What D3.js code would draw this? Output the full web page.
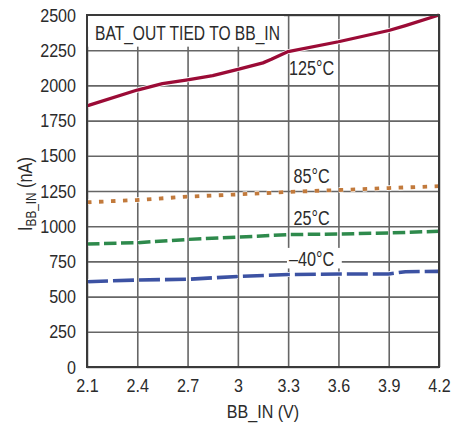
<!DOCTYPE html>
<html>
<head>
<meta charset="utf-8">
<script src="https://cdn.jsdelivr.net/npm/d3@7"></script>
<style>
  body { margin: 0; background: #fff; }
  svg { display: block; font-family: "Liberation Sans Narrow", "Arial Narrow", "Liberation Sans", sans-serif; }
</style>
</head>
<body>
<svg id="chart" width="466" height="433"></svg>
<script>
// Supply current into BB_IN vs. BB_IN voltage, four temperatures
const bbIn125 = [2.1, 2.4, 2.55, 2.7, 2.85, 3.0, 3.15, 3.2, 3.3, 3.6, 3.9, 4.0, 4.2];
const iBB125  = [1855, 1967, 2012, 2040, 2070, 2114, 2160, 2185, 2240, 2310, 2390, 2425, 2500];

const bbIn85 = [2.1, 2.4, 2.7, 3.0, 3.3, 3.6, 3.9, 4.2];
const iBB85  = [1170, 1186, 1210, 1226, 1243, 1257, 1271, 1284];

const bbIn25 = [2.1, 2.4, 2.7, 3.0, 3.3, 3.6, 3.9, 4.2];
const iBB25  = [874, 883, 906, 922, 940, 945, 952, 964];

const bbInM40 = [2.1, 2.4, 2.7, 3.0, 3.3, 3.6, 3.9, 4.0, 4.2];
const iBBM40  = [606, 618, 623, 643, 657, 660, 661, 677, 679];

const xTicks = [2.1, 2.4, 2.7, 3.0, 3.3, 3.6, 3.9, 4.2];
const xTickLabels = ["2.1", "2.4", "2.7", "3", "3.3", "3.6", "3.9", "4.2"];
const yTicks = [0, 250, 500, 750, 1000, 1250, 1500, 1750, 2000, 2250, 2500];

const tempLabels = ["125°C", "85°C", "25°C", "–40°C"];

const margin = { left: 87, top: 15, right: 27, bottom: 66 };
const width = 466 - margin.left - margin.right;
const height = 433 - margin.top - margin.bottom;

const svg = d3.select("#chart");
const g = svg.append("g").attr("transform", `translate(${margin.left},${margin.top})`);

const x = d3.scaleLinear().domain([2.1, 4.2]).range([0, width]);
const y = d3.scaleLinear().domain([0, 2500]).range([height, 0]);

const textColor = "#2b2b2b";
const gridColor = "#666";

// squeeze text horizontally for a condensed look
function condense(sel, factor) {
  sel.each(function () {
    const len = this.getComputedTextLength();
    d3.select(this)
      .attr("textLength", len * factor)
      .attr("lengthAdjust", "spacingAndGlyphs");
  });
}

// grid + tick labels
const xAxis = g.append("g")
  .attr("transform", `translate(0,${height})`)
  .call(d3.axisBottom(x).tickValues(xTicks).tickSize(-height).tickPadding(12)
    .tickFormat((d, i) => xTickLabels[i]));
const yAxis = g.append("g")
  .call(d3.axisLeft(y).tickValues(yTicks).tickSize(-width).tickPadding(11)
    .tickFormat(d3.format("d")));

[xAxis, yAxis].forEach(ax => {
  ax.select(".domain").remove();
  ax.selectAll(".tick line").attr("stroke", gridColor).attr("stroke-width", 1.6);
  ax.selectAll(".tick text")
    .attr("fill", textColor)
    .style("font-size", "17.5px")
    .style("font-family", "inherit");
});
xAxis.selectAll(".tick text").attr("dy", "0.75em");
yAxis.selectAll(".tick text").attr("dy", "0.35em");
condense(xAxis.selectAll(".tick text"), 0.92);
condense(yAxis.selectAll(".tick text"), 0.92);

// annotation box, top-left
g.append("rect")
  .attr("x", 1).attr("y", 1)
  .attr("width", x(3.275) - 1).attr("height", y(2275) - 1)
  .attr("fill", "#fff");
const note = g.append("text")
  .attr("x", 8).attr("y", 25)
  .attr("fill", textColor)
  .style("font-size", "19.5px")
  .text("BAT_OUT TIED TO BB_IN");
condense(note, 0.8);

// box behind the –40°C label
g.append("rect")
  .attr("x", x(3.293)).attr("y", y(846))
  .attr("width", x(3.62) - x(3.293)).attr("height", y(700) - y(846))
  .attr("fill", "#fff");

const series = [
  { xs: bbIn125, ys: iBB125, color: "#9b0b36", w: 3.3, dash: null },
  { xs: bbIn85,  ys: iBB85,  color: "#c27a3c", w: 3.8, dash: "4.5,7.5" },
  { xs: bbIn25,  ys: iBB25,  color: "#2e8a4c", w: 3.5, dash: "12.5,4.5" },
  { xs: bbInM40, ys: iBBM40, color: "#3c52a3", w: 3.6, dash: "21,5" }
];

const line = d3.line().x(d => x(d[0])).y(d => y(d[1]));

series.forEach(s => {
  const pts = s.xs.map((v, i) => [v, s.ys[i]]);
  g.append("path")
    .datum(pts)
    .attr("d", line)
    .attr("fill", "none")
    .attr("stroke", "#fff")
    .attr("stroke-width", s.w + 1.6)
    .attr("stroke-dasharray", s.dash)
    .attr("stroke-linejoin", "round");
  g.append("path")
    .datum(pts)
    .attr("d", line)
    .attr("fill", "none")
    .attr("stroke", s.color)
    .attr("stroke-width", s.w)
    .attr("stroke-dasharray", s.dash)
    .attr("stroke-linejoin", "round");
});

// plot frame
g.append("rect")
  .attr("x", 0).attr("y", 0)
  .attr("width", width).attr("height", height)
  .attr("fill", "none")
  .attr("stroke", "#3a3a3a")
  .attr("stroke-width", 2);

// temperature labels
const labelPos = [[3.44, 2074], [3.44, 1307], [3.44, 1012], [3.44, 717]];
const temps = g.selectAll(".temp")
  .data(tempLabels)
  .join("text")
  .attr("class", "temp")
  .attr("x", (d, i) => x(labelPos[i][0]))
  .attr("y", (d, i) => y(labelPos[i][1]))
  .attr("text-anchor", "middle")
  .attr("fill", textColor)
  .style("font-size", "19.5px")
  .text(d => d);
condense(temps, 0.83);

// axis titles
const xTitle = svg.append("text")
  .attr("x", margin.left + width / 2)
  .attr("y", 418)
  .attr("text-anchor", "middle")
  .attr("fill", textColor)
  .style("font-size", "18.5px")
  .text("BB_IN (V)");
condense(xTitle, 0.87);

const yTitle = svg.append("text")
  .attr("transform", `translate(32,${margin.top + height / 2 + 3}) rotate(-90) scale(0.84,1)`)
  .attr("text-anchor", "middle")
  .attr("fill", textColor)
  .style("font-size", "19.5px");
yTitle.append("tspan").text("I");
yTitle.append("tspan").attr("dy", 4).style("font-size", "14px").text("BB_IN");
yTitle.append("tspan").attr("dy", -4).text(" (nA)");
</script>
</body>
</html>
